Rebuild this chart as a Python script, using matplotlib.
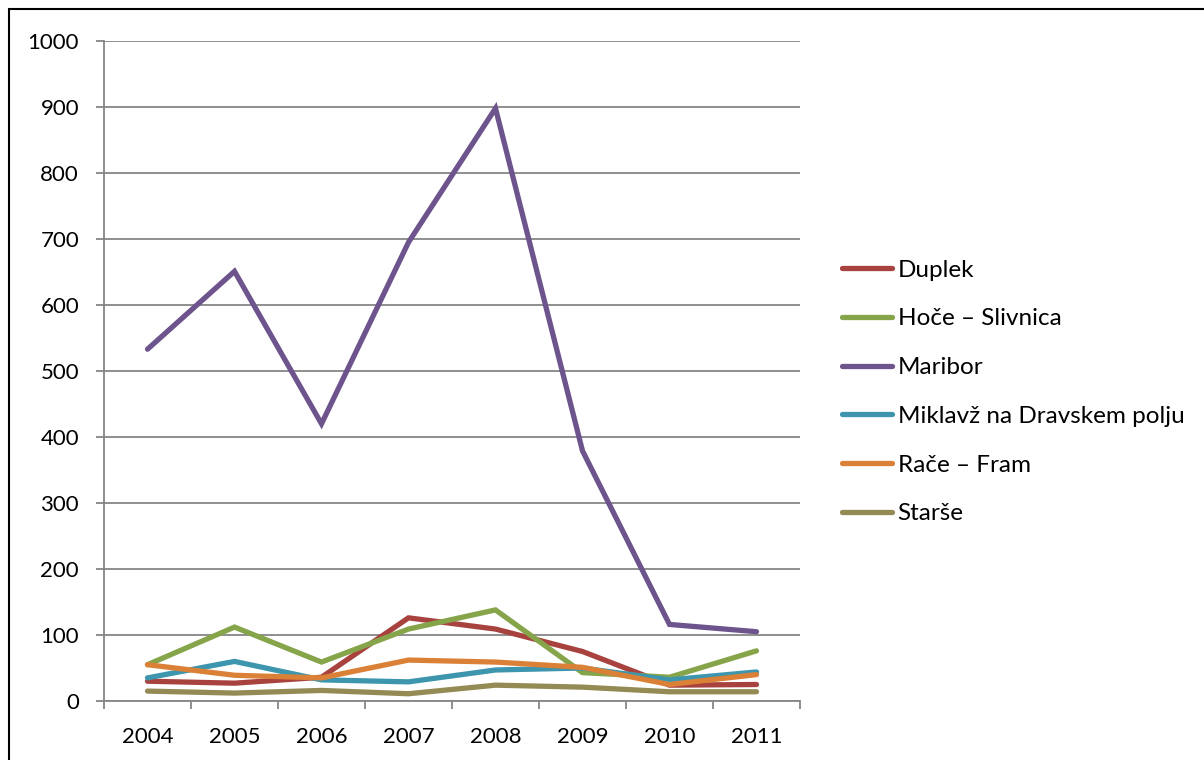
import matplotlib
matplotlib.use("Agg")
import matplotlib.pyplot as plt
from matplotlib.patches import Rectangle

plt.rcParams['font.family'] = ['Lato', 'DejaVu Sans']

leta = ['2004', '2005', '2006', '2007', '2008', '2009', '2010', '2011']
duplek = [30, 27, 36, 126, 109, 75, 24, 25]
hoce_slivnica = [55, 112, 59, 109, 138, 43, 36, 76]
maribor = [533, 651, 420, 695, 898, 379, 116, 105]
miklavz = [35, 60, 32, 29, 47, 50, 32, 44]
race_fram = [55, 39, 35, 62, 59, 51, 25, 40]
starse = [15, 12, 16, 11, 24, 21, 14, 14]

serije = [
    ('Duplek', duplek, '#A8423F'),
    ('Hoče – Slivnica', hoce_slivnica, '#86A44A'),
    ('Maribor', maribor, '#6E548D'),
    ('Miklavž na Dravskem polju', miklavz, '#3D96AE'),
    ('Rače – Fram', race_fram, '#DA8137'),
    ('Starše', starse, '#948A54'),
]

W, H = 1204, 760
fig = plt.figure(figsize=(W / 100, H / 100), dpi=100)
ax = fig.add_axes([104 / W, 1 - 701 / H, (800 - 104) / W, (701 - 41) / H])

x = list(range(len(leta)))
for ime, vrednosti, barva in serije:
    ax.plot(x, vrednosti, color=barva, lw=3.8, label=ime,
            solid_capstyle='round', solid_joinstyle='miter')

siva = '#868686'
ax.set_xlim(-0.5, len(leta) - 0.5)
ax.set_ylim(0, 1000)
ax.set_yticks(range(0, 1001, 100))
ax.yaxis.grid(True, color=siva, lw=1.3)
ax.set_axisbelow(True)
ax.set_xticks(x)
ax.set_xticklabels(leta)
ax.set_xticks([i - 0.5 for i in range(len(leta) + 1)], minor=True)
ax.tick_params(axis='x', which='major', length=0, labelsize=16, pad=19)
ax.tick_params(axis='x', which='minor', length=6, color=siva, width=1.3)
ax.tick_params(axis='y', length=6, color=siva, width=1.3, labelsize=16, pad=12)
for s in ['top', 'right']:
    ax.spines[s].set_visible(False)
for s in ['left', 'bottom']:
    ax.spines[s].set_color(siva)
    ax.spines[s].set_linewidth(1.3)

fig.legend(loc='upper left', bbox_to_anchor=(832 / W, 1 - 250 / H),
           frameon=False, fontsize=17.5, handlelength=2.05, handletextpad=0.25,
           labelspacing=1.14, borderaxespad=0)

fig.patches.append(Rectangle((9 / W, -0.1), 1.2, 1 - 9 / H + 0.1,
                             transform=fig.transFigure, fill=False,
                             edgecolor='black', lw=1.5))

fig.savefig('out.png', dpi=100)
